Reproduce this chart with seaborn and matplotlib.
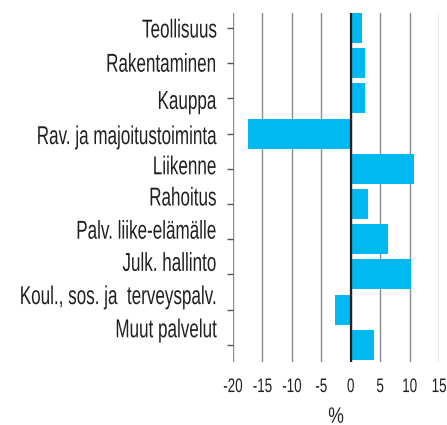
import matplotlib
matplotlib.use("Agg")
import matplotlib.pyplot as plt
import seaborn as sns
import pandas as pd
from matplotlib.patheffects import AbstractPathEffect
from matplotlib.transforms import Affine2D, ScaledTranslation

categories = ["Teollisuus", "Rakentaminen", "Kauppa", "Rav. ja majoitustoiminta",
              "Liikenne", "Rahoitus", "Palv. liike-elämälle", "Julk. hallinto",
              "Koul., sos. ja  terveyspalv.", "Muut palvelut"]
values = [1.9, 2.5, 2.4, -17.5, 10.7, 2.9, 6.3, 10.2, -2.6, 3.9]
xticks = [-20, -15, -10, -5, 0, 5, 10, 15]
xlabel = "%"

BAR = "#00B9F0"
TXT = "#231F20"


class Condense(AbstractPathEffect):
    """Draw text narrower/taller (like a condensed typeface), keeping its anchor."""

    def __init__(self, sx, sy, anchor="right"):
        super().__init__()
        self.sx, self.sy, self.anchor = sx, sy, anchor

    def draw_path(self, renderer, gc, tpath, affine, rgbFace=None):
        ext = tpath.get_extents()
        if self.anchor == "right":
            x0 = ext.x1
        elif self.anchor == "center":
            x0 = (ext.x0 + ext.x1) / 2
        else:
            x0 = 0
        t = Affine2D().translate(-x0, 0).scale(self.sx, self.sy).translate(x0, 0)
        renderer.draw_path(gc, tpath, t + affine, rgbFace)


sns.set_style("white")
plt.rcParams["font.family"] = ["Liberation Sans", "DejaVu Sans"]

fig = plt.figure(figsize=(4.47, 4.25), dpi=100)
ax = fig.add_axes([233 / 447, 1 - 362 / 425, 206 / 447, 349 / 425])

df = pd.DataFrame({"cat": categories, "val": values})
sns.barplot(data=df, x="val", y="cat", orient="h", color=BAR, saturation=1,
            width=0.85, linewidth=0, ax=ax, zorder=2)

ax.set_xlim(-20, 15)
ax.set_ylim(9.49, -0.426)
ax.set_xticks(xticks)
ax.set_xticklabels([str(t) for t in xticks])
ax.grid(axis="x", color="#8a8a8a", lw=1.0, zorder=0)
ax.grid(axis="y", visible=False)
ax.axvline(0, color=TXT, lw=1.6, zorder=3)
for s in ax.spines.values():
    s.set_visible(False)

ax.tick_params(axis="x", length=0, pad=13, labelsize=11.8, labelcolor=TXT)
ax.tick_params(axis="y", length=4, width=1, color="#555555", direction="out",
               pad=8, labelsize=13.5, labelcolor=TXT, left=True)
ax.set_ylabel("")
ax.set_xlabel(xlabel, fontsize=11, color=TXT, labelpad=12)

label_dy_px = [-3, -2, -4, -4, 1, 5, 7, 10, 12, 14]
for lbl, d in zip(ax.get_yticklabels(), label_dy_px):
    lbl.set_transform(lbl.get_transform() + ScaledTranslation(0, d / 100, fig.dpi_scale_trans))
    lbl.set_path_effects([Condense(0.91, 1.38, "right")])
for lbl in ax.get_xticklabels():
    lbl.set_path_effects([Condense(0.82, 1.2, "center")])
ax.xaxis.label.set_path_effects([Condense(1.15, 1.45, "center")])

fig.savefig("out.png", dpi=100)
